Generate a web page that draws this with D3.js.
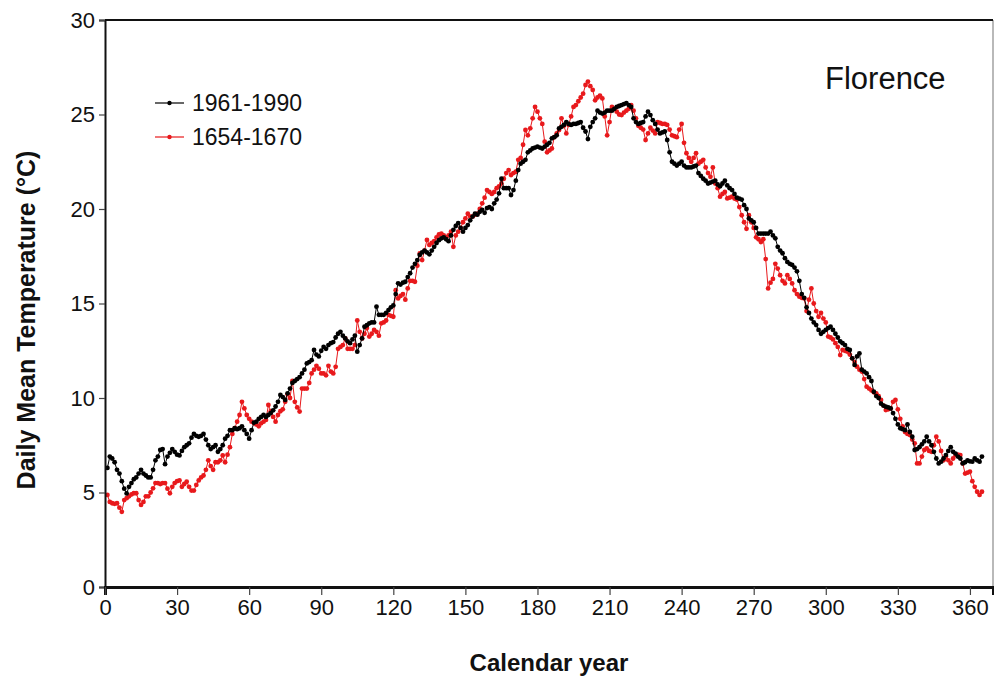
<!doctype html>
<html lang="en">
<head>
  <meta charset="utf-8">
  <title>Florence daily mean temperature</title>
  <style>
    * { margin: 0; padding: 0; box-sizing: border-box; }
    body { background: #fff; }
    svg { display: block; font-family: "Liberation Sans", Arial, sans-serif; }
  </style>
</head>

<body>
  <div class="chart"></div>
  <script src="https://cdn.jsdelivr.net/npm/d3@7/dist/d3.min.js"></script>
  <script>
    // ---------------------------------------------------------------
    //@@ data: daily means, day 1 .. 365

    const modern = [ // 1961-1990
      6.3, 6.9, 6.8, 6.6, 6.2, 6.0, 5.6, 5.2, 4.95, 5.3,
      5.5, 5.7, 5.8, 6.0, 6.2, 6.0, 5.9, 5.8, 5.8, 6.2,
      6.7, 6.9, 7.25, 7.3, 6.5, 6.9, 7.1, 7.3, 7.15, 7.0,
      6.96, 7.2, 7.4, 7.5, 7.6, 7.9, 8.1, 8.0, 7.95, 8.0,
      8.1, 7.8, 7.5, 7.3, 7.4, 7.5, 7.15, 7.3, 7.5, 7.85,
      8.0, 8.3, 8.3, 8.4, 8.35, 8.4, 8.5, 8.3, 8.1, 7.85,
      8.3, 8.7, 8.75, 8.9, 9.0, 9.1, 9.0, 9.1, 9.2, 9.35,
      9.55, 9.8, 10.16, 10.05, 9.9, 10.25, 10.5, 10.8, 10.9, 11.0,
      11.1, 11.3, 11.5, 11.83, 11.9, 12.0, 12.54, 12.3, 12.2, 12.5,
      12.7, 12.6, 12.8, 12.9, 12.96, 13.2, 13.4, 13.5, 13.3, 13.15,
      13.0, 12.9, 13.1, 13.3, 12.45, 12.8, 13.15, 13.77, 13.85, 13.95,
      14.0, 14.0, 14.83, 14.4, 14.4, 14.4, 14.5, 14.65, 14.8, 14.9,
      15.5, 16.07, 16.0, 16.1, 16.15, 16.4, 16.6, 16.9, 17.1, 17.3,
      17.57, 17.7, 17.8, 17.7, 17.6, 17.8, 18.0, 18.2, 18.35, 18.45,
      18.5, 18.4, 18.3, 18.6, 18.9, 19.1, 19.25, 19.0, 18.8, 19.0,
      19.15, 19.4, 19.6, 19.75, 19.7, 19.85, 19.95, 19.8, 20.05, 20.1,
      20.0, 20.3, 20.5, 20.83, 21.6, 21.1, 21.1, 21.1, 20.74, 21.0,
      21.5, 22.06, 22.4, 22.5, 22.6, 23.0, 23.1, 23.2, 23.25, 23.3,
      23.25, 23.2, 23.3, 23.4, 23.5, 23.74, 23.8, 23.9, 24.27, 24.35,
      24.45, 24.6, 24.5, 24.45, 24.5, 24.5, 24.55, 24.6, 24.3, 24.1,
      23.7, 24.35, 24.6, 24.8, 25.2, 25.1, 25.05, 25.1, 25.2, 25.2,
      25.2, 25.3, 25.4, 25.45, 25.5, 25.55, 25.6, 25.5, 25.4, 24.8,
      24.6, 24.5, 24.55, 24.6, 24.9, 25.15, 24.97, 24.7, 24.5, 24.2,
      24.0, 24.05, 24.1, 23.65, 23.0, 22.5, 22.4, 22.3, 22.4, 22.5,
      22.3, 22.2, 22.2, 22.2, 22.25, 22.3, 21.9, 21.75, 21.6, 21.5,
      21.35, 21.4, 21.45, 21.5, 21.3, 21.2, 21.35, 21.5, 21.25, 21.1,
      21.0, 20.8, 20.6, 20.55, 20.5, 20.2, 20.0, 19.5, 19.4, 19.3,
      19.0, 18.7, 18.7, 18.7, 18.7, 18.7, 18.8, 18.6, 18.45, 18.0,
      17.8, 17.66, 17.4, 17.2, 17.1, 17.04, 16.9, 16.7, 16.2, 15.5,
      15.3, 14.8, 14.5, 14.2, 14.0, 13.86, 13.6, 13.4, 13.5, 13.6,
      13.7, 13.77, 13.6, 13.4, 13.2, 13.0, 12.9, 12.8, 12.6, 12.54,
      12.1, 11.75, 12.2, 12.36, 11.5, 11.4, 11.3, 11.1, 10.9, 10.33,
      10.1, 10.0, 9.7, 9.6, 9.54, 9.5, 9.45, 9.2, 8.9, 8.6,
      8.4, 8.35, 8.3, 8.6, 8.2, 7.95, 7.25, 7.3, 7.4, 7.55,
      7.7, 7.95, 7.7, 7.5, 7.15, 6.8, 6.54, 6.63, 6.8, 6.98,
      7.2, 7.4, 7.15, 7.06, 6.9, 6.8, 6.54, 6.6, 6.7, 6.65,
      6.63, 6.8, 6.7, 6.63, 6.9
    ];

    const early = [ // 1654-1670
      4.87, 4.5, 4.43, 4.4, 4.43, 4.2, 3.98, 4.6, 4.7, 4.8,
      4.9, 4.96, 4.96, 4.6, 4.34, 4.5, 4.8, 4.8, 5.0, 5.22,
      5.5, 5.5, 5.45, 5.5, 5.5, 5.2, 4.96, 5.3, 5.5, 5.6,
      5.64, 5.3, 5.45, 5.57, 5.3, 5.1, 5.1, 5.4, 5.64, 5.8,
      5.9, 6.2, 6.7, 6.4, 6.2, 6.6, 6.6, 6.7, 6.96, 6.6,
      7.0, 7.4, 8.1, 8.4, 8.75, 9.1, 9.8, 9.45, 9.1, 8.9,
      8.75, 8.66, 8.6, 8.5, 8.66, 8.75, 8.84, 9.63, 9.3, 9.0,
      8.75, 9.1, 9.3, 9.4, 9.8, 10.2, 10.0, 10.9, 9.8, 9.5,
      9.28, 10.5, 10.5, 10.5, 10.8, 11.3, 11.5, 11.7, 11.55, 11.3,
      11.3, 11.2, 11.7, 11.4, 11.3, 11.65, 12.6, 12.7, 12.8, 13.15,
      12.6, 12.6, 12.6, 12.8, 14.1, 13.5, 13.15, 13.4, 13.7, 13.25,
      13.4, 13.6, 13.5, 13.3, 13.95, 14.0, 14.1, 14.4, 14.35, 14.3,
      15.7, 15.27, 15.4, 15.5, 15.2, 15.8, 16.2, 16.2, 16.15, 17.0,
      17.65, 17.3, 17.8, 18.36, 18.1, 18.2, 18.3, 18.5, 18.65, 18.7,
      18.6, 18.5, 18.6, 18.8, 18.0, 18.6, 18.8, 19.0, 19.3, 19.5,
      19.75, 19.6, 19.6, 19.7, 19.75, 20.0, 20.3, 20.6, 21.0, 20.9,
      20.8, 20.9, 21.1, 21.2, 21.35, 21.6, 21.9, 22.06, 21.8, 21.9,
      21.97, 22.6, 22.7, 23.4, 24.18, 23.9, 24.27, 24.8, 25.4, 25.15,
      24.8, 24.5, 23.56, 23.0, 23.1, 23.2, 23.8, 24.0, 24.18, 24.8,
      24.4, 24.0, 24.45, 24.9, 25.4, 25.5, 25.7, 25.9, 26.1, 26.56,
      26.74, 26.5, 26.3, 25.75, 25.9, 26.0, 25.85, 24.9, 23.9, 24.6,
      25.4, 25.3, 25.15, 25.0, 24.97, 25.1, 25.2, 25.3, 25.5, 25.2,
      24.8, 24.4, 24.3, 24.2, 23.65, 24.0, 24.3, 24.15, 24.0, 24.6,
      24.55, 24.5, 24.5, 24.45, 24.2, 23.9, 23.85, 23.8, 24.2, 24.5,
      23.5, 22.95, 22.7, 22.5, 22.7, 22.95, 22.4, 22.5, 22.6, 22.2,
      21.9, 21.7, 22.2, 21.35, 21.1, 20.65, 20.8, 20.9, 20.56, 20.6,
      20.65, 20.55, 20.5, 20.1, 19.67, 19.3, 18.95, 19.67, 19.3, 19.0,
      18.5, 18.4, 18.25, 18.4, 17.35, 15.8, 16.1, 16.3, 17.1, 16.85,
      16.5, 16.2, 16.06, 16.5, 16.3, 16.06, 15.7, 15.5, 15.36, 15.3,
      15.27, 14.6, 15.2, 15.8, 15.0, 14.6, 14.3, 14.5, 14.2, 14.0,
      13.25, 13.2, 13.1, 12.9, 12.7, 12.27, 12.54, 12.5, 12.45, 12.3,
      12.1, 11.9, 11.66, 11.5, 11.4, 11.0, 10.6, 10.5, 10.4, 10.3,
      10.25, 10.1, 9.9, 9.6, 9.36, 9.4, 9.45, 9.8, 9.9, 9.4,
      8.9, 8.5, 8.2, 8.1, 8.04, 7.8, 7.6, 6.54, 6.54, 6.9,
      7.25, 7.33, 7.2, 7.15, 7.5, 7.95, 7.7, 7.2, 6.7, 6.9,
      6.7, 6.54, 6.8, 6.98, 7.0, 6.98, 6.54, 6.0, 6.05, 6.1,
      5.6, 5.3, 5.04, 4.87, 5.04
    ];

    const xTicks = [0, 30, 60, 90, 120, 150, 180, 210, 240, 270, 300, 330, 360];
    const yTicks = [0, 5, 10, 15, 20, 25, 30];

    const seriesNames = ['1961-1990', '1654-1670'];
    const seriesColors = ['#000000', '#e8191c'];

    // ---------------------------------------------------------------
    //@@ svg configuration
    const svgDim = {w: 994, h: 677};
    const plot = {l: 105, r: 993, t: 20, b: 587};

    const svg = d3.select('.chart').append('svg')
      .attr('width', svgDim.w)
      .attr('height', svgDim.h);

    //@@ scales
    const scaleX = d3.scaleLinear().domain([0, 369.6]).range([plot.l, plot.r]);
    const scaleY = d3.scaleLinear().domain([0, 30]).range([plot.b, plot.t]);

    //@@ plot frame
    svg.append('line')
      .attr('x1', plot.r).attr('x2', plot.r).attr('y1', plot.t).attr('y2', plot.b)
      .attr('stroke', '#8a8a8a').attr('stroke-width', 1.2);
    svg.append('line')
      .attr('x1', plot.l).attr('x2', plot.r).attr('y1', plot.t).attr('y2', plot.t)
      .attr('stroke', '#111').attr('stroke-width', 2);

    //@@ series
    const series = [modern, early].map((vals, i) => ({
      name: seriesNames[i],
      color: seriesColors[i],
      points: vals.map((v, k) => ({day: k + 1, v}))
    }));

    const line = d3.line()
      .x(d => scaleX(d.day))
      .y(d => scaleY(d.v));

    // draw the modern normal last so it sits on top where they overlap
    [series[1], series[0]].forEach(s => {
      const g = svg.append('g').attr('note', s.name);
      g.append('path')
        .datum(s.points)
        .attr('d', line)
        .attr('fill', 'none')
        .attr('stroke', s.color)
        .attr('stroke-width', 1);
      g.selectAll('circle')
        .data(s.points)
        .enter()
        .append('circle')
        .attr('cx', d => scaleX(d.day))
        .attr('cy', d => scaleY(d.v))
        .attr('r', 2.4)
        .attr('fill', s.color);
    });

    //@@ axisY
    const axisY = d3.axisLeft(scaleY)
      .tickValues(yTicks)
      .tickSize(6)
      .tickPadding(4);
    const areaAxisY = svg.append('g')
      .attr('transform', `translate(${plot.l},0)`)
      .call(axisY);
    areaAxisY.select('.domain').attr('stroke', '#111').attr('stroke-width', 2);
    areaAxisY.selectAll('.tick line').attr('stroke', '#444').attr('stroke-width', 1.2);
    areaAxisY.selectAll('text')
      .attr('fill', '#111')
      .style('font-size', '22px');

    //@@ axisX
    const axisX = d3.axisBottom(scaleX)
      .tickValues(xTicks)
      .tickSize(8)
      .tickPadding(4);
    const areaAxisX = svg.append('g')
      .attr('transform', `translate(0,${plot.b})`)
      .call(axisX);
    areaAxisX.select('.domain').attr('stroke', '#111').attr('stroke-width', 3);
    areaAxisX.selectAll('.tick line').attr('stroke', '#444').attr('stroke-width', 1.2);
    areaAxisX.selectAll('text')
      .attr('fill', '#111')
      .style('font-size', '22px');

    //@@ axis titles
    svg.append('text')
      .attr('x', (plot.l + plot.r) / 2)
      .attr('y', 671)
      .attr('text-anchor', 'middle')
      .style('font-size', '24px')
      .style('font-weight', 'bold')
      .attr('fill', '#111')
      .text('Calendar year');

    svg.append('text')
      .attr('transform', 'translate(35,320) rotate(-90)')
      .attr('text-anchor', 'middle')
      .style('font-size', '25px')
      .style('font-weight', 'bold')
      .attr('fill', '#111')
      .text('Daily Mean Temperature (°C)');

    //@@ station label
    svg.append('text')
      .attr('x', 825)
      .attr('y', 89)
      .style('font-size', '31px')
      .attr('fill', '#111')
      .text('Florence');

    //@@ legend
    const legend = svg.append('g').attr('note', 'legend');
    series.forEach((s, i) => {
      const y = 103 + i * 34;
      legend.append('line')
        .attr('x1', 155).attr('x2', 184).attr('y1', y).attr('y2', y)
        .attr('stroke', s.color).attr('stroke-width', 1.2);
      legend.append('circle')
        .attr('cx', 169.5).attr('cy', y).attr('r', 2.2)
        .attr('fill', s.color);
      legend.append('text')
        .attr('x', 192)
        .attr('y', y + 8)
        .style('font-size', '23px')
        .attr('fill', '#111')
        .text(s.name);
    });
  </script>
</body>

</html>
